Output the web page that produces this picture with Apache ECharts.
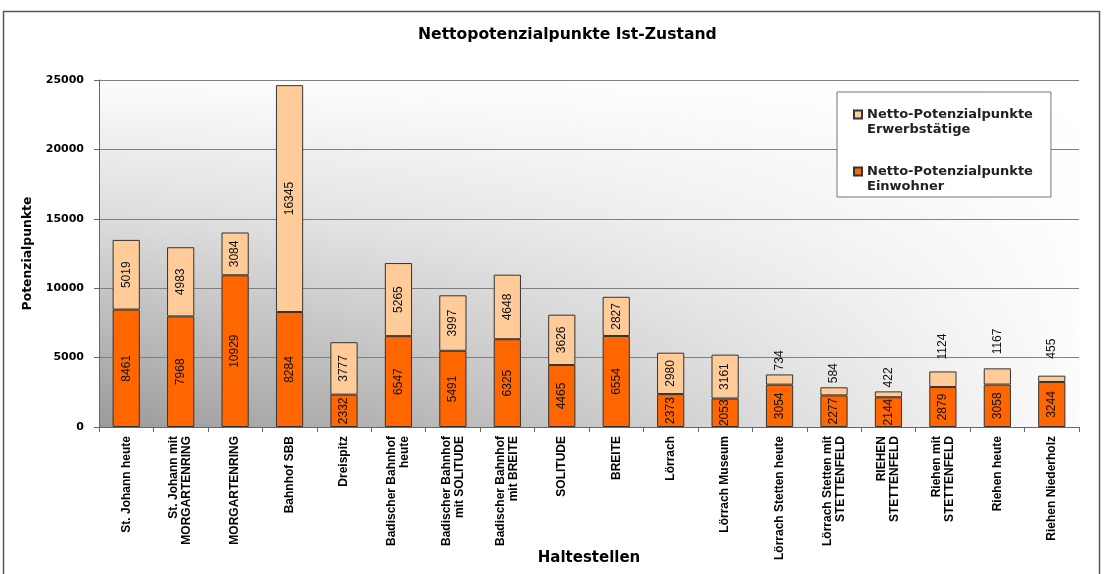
<!DOCTYPE html>
<html>
<head>
<meta charset="utf-8">
<script src="https://cdn.jsdelivr.net/npm/echarts@6/dist/echarts.min.js"></script>
<style>
html, body { margin: 0; padding: 0; background: #fff; }
#chart { width: 1104px; height: 574px; }
</style>
</head>
<body>
<div id="chart"></div>
<script>
// Haltestellen und Netto-Potenzialpunkte (Ist-Zustand)
const categories = [
  'St. Johann heute',
  'St. Johann mit\nMORGARTENRING',
  'MORGARTENRING',
  'Bahnhof SBB',
  'Dreispitz',
  'Badischer Bahnhof\nheute',
  'Badischer Bahnhof\nmit SOLITUDE',
  'Badischer Bahnhof\nmit BREITE',
  'SOLITUDE',
  'BREITE',
  'Lörrach',
  'Lörrach Museum',
  'Lörrach Stetten heute',
  'Lörrach Stetten mit\nSTETTENFELD',
  'RIEHEN\nSTETTENFELD',
  'Riehen mit\nSTETTENFELD',
  'Riehen heute',
  'Riehen Niederholz'
]
const einwohner = [8461, 7968, 10929, 8284, 2332, 6547, 5491, 6325, 4465, 6554, 2373, 2053, 3054, 2277, 2144, 2879, 3058, 3244]
const erwerbstaetige = [5019, 4983, 3084, 16345, 3777, 5265, 3997, 4648, 3626, 2827, 2980, 3161, 734, 584, 422, 1124, 1167, 455]

const NAME_EW = 'Netto-Potenzialpunkte\nEinwohner'
const NAME_ERW = 'Netto-Potenzialpunkte\nErwerbstätige'

// small segments get their label above the bar
const labelGap = { 15: 12, 16: 14, 17: 17 }

const FONT = "'Liberation Sans', Arial, sans-serif"
const HEAVY = "'DejaVu Sans', Verdana, sans-serif"

const chart = echarts.init(document.getElementById('chart'))

const insideLabel = {
  show: true,
  position: 'inside',
  rotate: 90,
  fontSize: 12,
  fontFamily: FONT,
  color: '#111'
}

const topData = erwerbstaetige.map((v, i) => {
  if (v > 1500) return v
  return {
    value: v,
    label: {
      position: 'top',
      align: 'left',
      verticalAlign: 'middle',
      distance: labelGap[i] || 4
    }
  }
})

chart.setOption({
  animation: false,
  textStyle: { fontFamily: FONT },
  title: {
    text: 'Nettopotenzialpunkte Ist-Zustand',
    left: 418,
    top: 27,
    padding: 0,
    textStyle: { fontSize: 15.6, fontWeight: 'bold', color: '#000', fontFamily: HEAVY }
  },
  legend: {
    orient: 'vertical',
    left: 837,
    top: 92,
    padding: [15, 18, 3, 16],
    itemGap: 27,
    itemWidth: 8,
    itemHeight: 23,
    icon: 'path://M0,0L8,0L8,8L0,8Z M0,23',
    backgroundColor: '#fff',
    borderColor: '#777',
    borderWidth: 1,
    data: [NAME_ERW, NAME_EW],
    textStyle: { fontSize: 13, fontWeight: 'bold', color: '#222', lineHeight: 15, fontFamily: HEAVY }
  },
  graphic: [
    {
      type: 'rect',
      z: 0.5,
      silent: true,
      shape: { x: 99, y: 80, width: 980, height: 347 },
      style: {
        fill: new echarts.graphic.LinearGradient(0, 0, 1, 0, [
          { offset: 0, color: 'rgba(255,255,255,0)' },
          { offset: 0.35, color: 'rgba(255,255,255,0.3)' },
          { offset: 1, color: 'rgba(255,255,255,0.97)' }
        ])
      }
    },
    {
      type: 'rect',
      z: 10,
      silent: true,
      shape: { x: 3.5, y: 11.5, width: 1096, height: 600 },
      style: { fill: 'none', stroke: '#555', lineWidth: 1.5 }
    }
  ],
  grid: {
    left: 99,
    right: 25,
    top: 80,
    bottom: 147,
    outerBoundsMode: 'none',
    show: true,
    borderWidth: 0,
    backgroundColor: new echarts.graphic.LinearGradient(0, 0, 0, 1, [
      { offset: 0, color: '#fdfdfd' },
      { offset: 0.4, color: '#dcdcdc' },
      { offset: 1, color: '#9a9a9a' }
    ])
  },
  xAxis: {
    type: 'category',
    data: categories,
    z: 1,
    axisLine: { lineStyle: { color: '#666' } },
    axisTick: { show: true, length: 5, lineStyle: { color: '#666' } },
    axisLabel: {
      interval: 0,
      rotate: 90,
      margin: 9,
      fontSize: 12,
      lineHeight: 13,
      fontWeight: 'bold',
      color: '#000',
      fontFamily: FONT
    },
    name: 'Haltestellen',
    nameLocation: 'middle',
    nameGap: 124,
    nameMoveOverlap: false,
    nameTextStyle: { fontSize: 15, fontWeight: 'bold', color: '#000', fontFamily: HEAVY }
  },
  yAxis: {
    type: 'value',
    min: 0,
    max: 25000,
    interval: 5000,
    z: 1,
    axisLine: { show: true, lineStyle: { color: '#666' } },
    axisTick: { show: true, length: 5, lineStyle: { color: '#666' } },
    splitLine: { lineStyle: { color: '#808080' } },
    axisLabel: {
      fontSize: 11,
      fontWeight: 'bold',
      color: '#000',
      margin: 15,
      fontFamily: HEAVY,
      formatter: (v) => String(v)
    },
    name: 'Potenzialpunkte',
    nameLocation: 'middle',
    nameRotate: 90,
    nameGap: 65,
    nameMoveOverlap: false,
    nameTextStyle: { fontSize: 12.4, fontWeight: 'bold', color: '#000', fontFamily: HEAVY }
  },
  series: [
    {
      name: NAME_EW,
      type: 'bar',
      stack: 'total',
      barCategoryGap: '50%',
      itemStyle: { color: '#ff6600', borderColor: '#333', borderWidth: 1 },
      label: insideLabel,
      data: einwohner
    },
    {
      name: NAME_ERW,
      type: 'bar',
      stack: 'total',
      barCategoryGap: '50%',
      itemStyle: { color: '#ffcc99', borderColor: '#333', borderWidth: 1 },
      label: insideLabel,
      data: topData
    }
  ]
})
</script>
</body>
</html>
